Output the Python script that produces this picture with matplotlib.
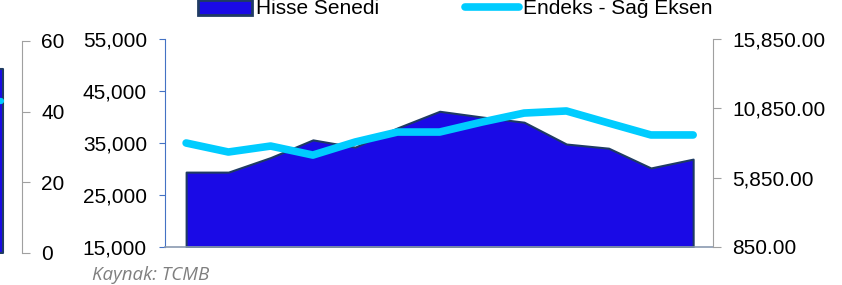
import matplotlib.pyplot as plt
import matplotlib.patches as mpatches
from matplotlib.lines import Line2D
import numpy as np

plt.rcParams['font.family'] = ['Liberation Sans', 'DejaVu Sans']

# Hisse Senedi (left axis) and Endeks (right axis), 13 periods
hisse = [29400, 29400, 32200, 35600, 34200, 37900, 41100, 40000, 39000, 34800, 34000, 30200, 31900]
endeks = [8350, 7700, 8130, 7480, 8420, 9140, 9140, 9860, 10510, 10660, 9790, 8930, 8930]
left_ticks = [15000, 25000, 35000, 45000, 55000]
right_ticks = [850, 5850, 10850, 15850]

# last visible values of the neighbouring (cropped) chart
prev_area = [52, 52]
prev_line = [43, 43]
prev_ticks = [0, 20, 40, 60]

fill_color = '#1a0ae6'
edge_color = '#1f3b63'
line_color = '#00ccff'
tick_fs = 15

W, H = 842, 285
fig = plt.figure(figsize=(W / 100, H / 100), dpi=100)

# cropped neighbour chart on the far left
ax0 = fig.add_axes([-40 / W, 1 - 253 / H, 62 / W, (253 - 41) / H])
ax0.fill_between([-1, 0.05], 0, prev_area, facecolor=fill_color, edgecolor=edge_color, linewidth=1.5)
ax0.plot([-1, 0], prev_line, color=line_color, lw=4.5, solid_capstyle='round')
ax0.set_xlim(-1, 0.5)
ax0.set_ylim(0, 60)
ax0.set_yticks(prev_ticks)
ax0.yaxis.tick_right()
ax0.tick_params(axis='y', colors='#a0a0a0', labelcolor='black', labelsize=tick_fs, length=6, pad=8)
ax0.set_xticks([])
for s in ['top', 'left', 'bottom']:
    ax0.spines[s].set_visible(False)
ax0.spines['right'].set_color('#a0a0a0')
ax0.patch.set_visible(False)

# main chart
ax = fig.add_axes([165 / W, 1 - 247 / H, (713 - 165) / W, (247 - 39) / H])
x = np.arange(len(hisse))
ax.fill_between(x, 15000, hisse, facecolor=fill_color, edgecolor=edge_color, linewidth=1.5)
ax.set_xlim(-0.5, len(hisse) - 0.53)
ax.set_ylim(15000, 55000)
ax.set_yticks(left_ticks)
ax.set_yticklabels([f'{v:,}' for v in left_ticks])
ax.set_xticks([])
ax.tick_params(axis='y', colors='#4472c4', labelcolor='black', labelsize=tick_fs, length=4, pad=9)
ax.spines['top'].set_visible(False)
ax.spines['right'].set_visible(False)
ax.spines['left'].set_color('#4472c4')
ax.spines['bottom'].set_color('#8a9ab0')
ax.spines['bottom'].set_linewidth(1.2)

ax2 = ax.twinx()
ax2.plot(x, endeks, color=line_color, lw=5.5, solid_capstyle='round', solid_joinstyle='round')
ax2.set_ylim(850, 15850)
ax2.set_yticks(right_ticks)
ax2.set_yticklabels([f'{v:,.2f}' for v in right_ticks])
ax2.tick_params(axis='y', colors='#a0a0a0', labelcolor='black', labelsize=tick_fs, length=6, pad=8)
for s in ['top', 'left', 'bottom']:
    ax2.spines[s].set_visible(False)
ax2.spines['right'].set_color('#a0a0a0')

handles = [mpatches.Patch(facecolor=fill_color, edgecolor=edge_color, linewidth=2),
           Line2D([], [], color=line_color, lw=5.5, solid_capstyle='round')]
fig.legend(handles, ['Hisse Senedi', 'Endeks - Sağ Eksen'], loc='center left',
           bbox_to_anchor=(198 / W, 1 - 9 / H), ncol=2, frameon=False,
           fontsize=tick_fs, borderpad=0, borderaxespad=0, handlelength=2.6,
           handletextpad=0.2, columnspacing=4.1)

fig.text(92 / W, 1 - 275 / H, 'Kaynak: TCMB', fontsize=13.5, style='italic',
         color='#7f7f7f', family=['Open Sans', 'DejaVu Sans'], va='center')

fig.savefig('out.png', dpi=100)
